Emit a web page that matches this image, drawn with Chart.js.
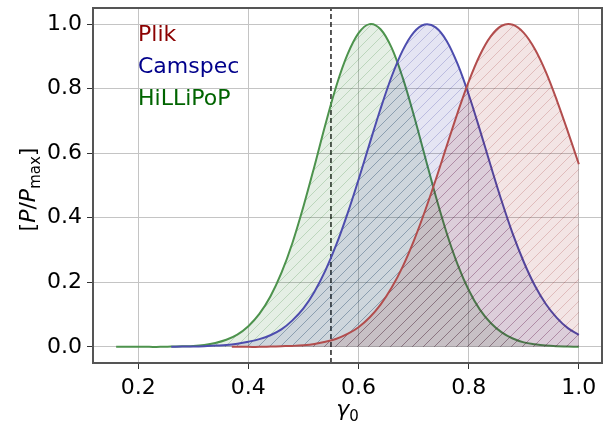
<!DOCTYPE html>
<html>
<head>
<meta charset="utf-8">
<script src="https://cdn.jsdelivr.net/npm/chart.js@4/dist/chart.umd.min.js"></script>
<style>
  html, body { margin: 0; padding: 0; background: #fff; }
  #wrap { width: 606px; height: 426px; }
</style>
</head>
<body>
<div id="wrap"><canvas id="chart" width="606" height="426"></canvas></div>
<script>
// gamma_0 grids and normalised posteriors
const gammaHillipop = [0.16, 0.18, 0.20, 0.22, 0.24, 0.26, 0.28, 0.30, 0.32, 0.34, 0.36, 0.38,
    0.40, 0.42, 0.44, 0.46, 0.48, 0.50, 0.52, 0.54, 0.56, 0.58, 0.60, 0.62, 0.64, 0.66, 0.68,
    0.70, 0.72, 0.74, 0.76, 0.78, 0.80, 0.82, 0.84, 0.86, 0.88, 0.90, 0.92, 0.94, 0.96, 0.98, 1.00];
const hillipop = [0.000, 0.000, 0.000, 0.000, 0.000, 0.001, 0.002, 0.003, 0.006, 0.012, 0.022, 0.038,
    0.064, 0.102, 0.156, 0.229, 0.322, 0.435, 0.560, 0.690, 0.810, 0.906, 0.972, 1.000, 0.984, 0.927, 0.835,
    0.720, 0.594, 0.468, 0.353, 0.255, 0.176, 0.116, 0.074, 0.045, 0.026, 0.014, 0.008, 0.004, 0.002, 0.001, 0.000];

const gammaCamspec = [0.26, 0.28, 0.30, 0.32, 0.34, 0.36, 0.38, 0.40, 0.42, 0.44, 0.46, 0.48,
    0.50, 0.52, 0.54, 0.56, 0.58, 0.60, 0.62, 0.64, 0.66, 0.68, 0.70, 0.72, 0.74, 0.76, 0.78,
    0.80, 0.82, 0.84, 0.86, 0.88, 0.90, 0.92, 0.94, 0.96, 0.98, 1.00];
const camspec = [0.000, 0.001, 0.001, 0.002, 0.004, 0.006, 0.010, 0.016, 0.024, 0.036, 0.054, 0.082,
    0.119, 0.171, 0.237, 0.318, 0.413, 0.518, 0.629, 0.738, 0.837, 0.918, 0.974, 0.999, 0.990, 0.948, 0.876,
    0.782, 0.674, 0.561, 0.451, 0.350, 0.263, 0.190, 0.133, 0.090, 0.058, 0.037];

const gammaPlik = [0.37, 0.40, 0.42, 0.44, 0.46, 0.48, 0.50, 0.52, 0.54, 0.56, 0.58, 0.60,
    0.62, 0.64, 0.66, 0.68, 0.70, 0.72, 0.74, 0.76, 0.78, 0.80, 0.82, 0.84, 0.86, 0.88, 0.90,
    0.92, 0.94, 0.96, 0.98, 1.00];
const plik = [0.000, 0.000, 0.000, 0.001, 0.002, 0.003, 0.005, 0.009, 0.016, 0.025, 0.040, 0.061,
    0.091, 0.131, 0.183, 0.248, 0.327, 0.418, 0.517, 0.622, 0.726, 0.822, 0.903, 0.962, 0.995, 0.998, 0.973,
    0.923, 0.852, 0.764, 0.667, 0.566];

const xTicks = [0.2, 0.4, 0.6, 0.8, 1.0];
const yTicks = [0.0, 0.2, 0.4, 0.6, 0.8, 1.0];
const gammaCut = 0.55;

const labels = [
    { text: 'Plik', color: '#8b0000' },
    { text: 'Camspec', color: '#00008b' },
    { text: 'HiLLiPoP', color: '#006400' },
];

const FONT = '"DejaVu Sans", sans-serif';

function hatch(rgb) {
    const s = 11;
    const c = document.createElement('canvas');
    c.width = s; c.height = s;
    const g = c.getContext('2d');
    g.fillStyle = `rgba(${rgb},0.1)`;
    g.fillRect(0, 0, s, s);
    g.strokeStyle = `rgba(${rgb},0.18)`;
    g.lineWidth = 1;
    g.beginPath();
    g.moveTo(-1, s + 1); g.lineTo(s + 1, -1);
    g.moveTo(-1, 1); g.lineTo(1, -1);
    g.moveTo(s - 1, s + 1); g.lineTo(s + 1, s - 1);
    g.stroke();
    return g.createPattern(c, 'repeat');
}

function pts(xs, ys) {
    return xs.map((x, i) => ({ x, y: ys[i] }));
}

function curve(label, xs, ys, line, rgb) {
    return {
        label,
        data: pts(xs, ys),
        borderColor: line,
        borderWidth: 2,
        backgroundColor: hatch(rgb),
        fill: 'origin',
        pointRadius: 0,
        tension: 0.35,
    };
}

const textPlugin = {
    id: 'texts',
    afterDraw(chart) {
        const ctx = chart.ctx;
        const a = chart.chartArea;
        ctx.save();
        // frame
        ctx.strokeStyle = '#555';
        ctx.lineWidth = 2;
        ctx.strokeRect(a.left, a.top, a.right - a.left, a.bottom - a.top);

        // legend texts
        ctx.font = '22px ' + FONT;
        ctx.textBaseline = 'alphabetic';
        ctx.textAlign = 'left';
        labels.forEach((l, i) => {
            ctx.fillStyle = l.color;
            ctx.fillText(l.text, 138, 41 + i * 32);
        });

        // x title: gamma_0
        ctx.fillStyle = '#000';
        ctx.font = 'italic 22px ' + FONT;
        const gw = ctx.measureText('γ').width;
        ctx.font = '15px ' + FONT;
        const zw = ctx.measureText('0').width;
        const cx = (a.left + a.right) / 2;
        const x0 = cx - (gw + zw) / 2;
        ctx.font = 'italic 22px ' + FONT;
        ctx.fillText('γ', x0, 416);
        ctx.font = '15px ' + FONT;
        ctx.fillText('0', x0 + gw, 421);

        // y title: [P/P_max]
        const parts = [
            { t: '[', f: '22px ', dy: 0 },
            { t: 'P', f: 'italic 22px ', dy: 0 },
            { t: '/', f: '22px ', dy: 0 },
            { t: 'P', f: 'italic 22px ', dy: 0 },
            { t: 'max', f: '15px ', dy: 5 },
            { t: ']', f: '22px ', dy: 0 },
        ];
        let total = 0;
        parts.forEach((p) => {
            ctx.font = p.f + FONT;
            p.w = ctx.measureText(p.t).width;
            total += p.w;
        });
        ctx.translate(35, (a.top + a.bottom) / 2 + 4);
        ctx.rotate(-Math.PI / 2);
        let px = -total / 2;
        parts.forEach((p) => {
            ctx.font = p.f + FONT;
            ctx.fillText(p.t, px, p.dy);
            px += p.w;
        });
        ctx.restore();
    },
};

new Chart(document.getElementById('chart'), {
    type: 'line',
    data: {
        datasets: [
            curve('Plik', gammaPlik, plik, 'rgb(178,77,77)', '139,0,0'),
            curve('Camspec', gammaCamspec, camspec, 'rgb(77,77,174)', '0,0,139'),
            curve('HiLLiPoP', gammaHillipop, hillipop, 'rgb(77,147,77)', '0,100,0'),
            {
                label: 'cut',
                data: [{ x: gammaCut, y: -0.05 }, { x: gammaCut, y: 1.05 }],
                borderColor: '#000',
                borderWidth: 1.3,
                borderDash: [5, 3],
                pointRadius: 0,
                fill: false,
            },
        ],
    },
    options: {
        responsive: false,
        animation: false,
        layout: { padding: { top: 8, right: 4, left: 0, bottom: 0 } },
        plugins: {
            legend: { display: false },
            tooltip: { enabled: false },
        },
        scales: {
            x: {
                type: 'linear',
                min: 0.118,
                max: 1.042,
                afterBuildTicks: (s) => { s.ticks = xTicks.map((v) => ({ value: v })); },
                afterFit: (s) => { s.height = 63; s.paddingLeft = 0; s.paddingRight = 0; },
                grid: { color: '#c4c4c4', lineWidth: 1, tickColor: '#333', tickLength: 6 },
                border: { display: false },
                ticks: {
                    color: '#000',
                    padding: 6,
                    maxRotation: 0,
                    font: { family: FONT, size: 22 },
                    callback: (v) => v.toFixed(1),
                },
            },
            y: {
                min: -0.05,
                max: 1.05,
                afterBuildTicks: (s) => { s.ticks = yTicks.map((v) => ({ value: v })); },
                afterFit: (s) => { s.width = 93; s.paddingTop = 0; s.paddingBottom = 0; },
                grid: { color: '#c4c4c4', lineWidth: 1, tickColor: '#333', tickLength: 6 },
                border: { display: false },
                ticks: {
                    color: '#000',
                    padding: 5,
                    font: { family: FONT, size: 22 },
                    callback: (v) => v.toFixed(1),
                },
            },
        },
    },
    plugins: [textPlugin],
});
</script>
</body>
</html>
